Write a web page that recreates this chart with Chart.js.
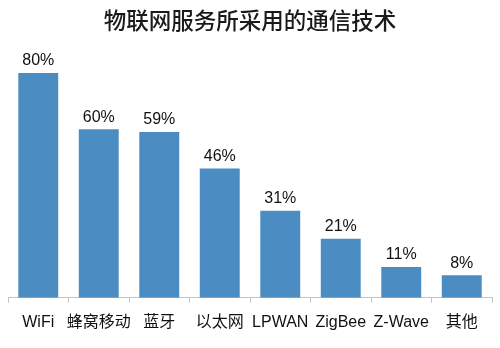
<!DOCTYPE html>
<html>
<head>
<meta charset="utf-8">
<script src="https://cdn.jsdelivr.net/npm/chart.js@4/dist/chart.umd.min.js"></script>
<style>
  html, body { margin: 0; padding: 0; background: #fff; }
  #wrap { width: 500px; height: 348px; }
</style>
</head>
<body>
<div id="wrap"><canvas id="myChart"></canvas></div>
<script>
// Data
const categories = ['WiFi', '蜂窝移动', '蓝牙', '以太网', 'LPWAN', 'ZigBee', 'Z-Wave', '其他'];
const shares = [80, 60, 59, 46, 31, 21, 11, 8];

const fontFamily = '"Liberation Sans", "Noto Sans CJK SC", sans-serif';

// Draw "xx%" above each bar
const valueLabels = {
    id: 'valueLabels',
    afterDatasetsDraw(chart) {
        const ctx = chart.ctx;
        const meta = chart.getDatasetMeta(0);
        ctx.save();
        ctx.font = '16px ' + fontFamily;
        ctx.fillStyle = '#111';
        ctx.textAlign = 'center';
        ctx.textBaseline = 'bottom';
        meta.data.forEach(function(bar, i) {
            ctx.fillText(shares[i] + '%', bar.x, bar.y - 4);
        });
        ctx.restore();
    }
};

const ctx = document.getElementById('myChart').getContext('2d');
const myChart = new Chart(ctx, {
    type: 'bar',
    data: {
        labels: categories,
        datasets: [{
            label: '比例',
            data: shares,
            backgroundColor: '#4b8cc3',
            barPercentage: 0.66,
            categoryPercentage: 1
        }]
    },
    options: {
        responsive: true,
        maintainAspectRatio: false,
        animation: false,
        layout: { padding: { left: 8, right: 8, bottom: 6, top: 0 } },
        plugins: {
            legend: { display: false },
            tooltip: { enabled: false },
            title: {
                display: true,
                text: '物联网服务所采用的通信技术',
                color: '#1a1a1a',
                font: { family: '"Noto Sans CJK SC", sans-serif', size: 22.5, weight: '500' },
                padding: { top: 7, bottom: 11 }
            }
        },
        scales: {
            x: {
                border: { display: true, color: '#c4c4c4', width: 1 },
                grid: {
                    display: true,
                    offset: true,
                    drawOnChartArea: false,
                    drawTicks: true,
                    tickLength: 5,
                    color: '#c4c4c4'
                },
                ticks: {
                    color: '#111',
                    padding: 10,
                    maxRotation: 0,
                    autoSkip: false,
                    font: { family: fontFamily, size: 16 }
                }
            },
            y: {
                display: false,
                min: 0,
                max: 90
            }
        }
    },
    plugins: [valueLabels]
});
</script>
</body>
</html>
